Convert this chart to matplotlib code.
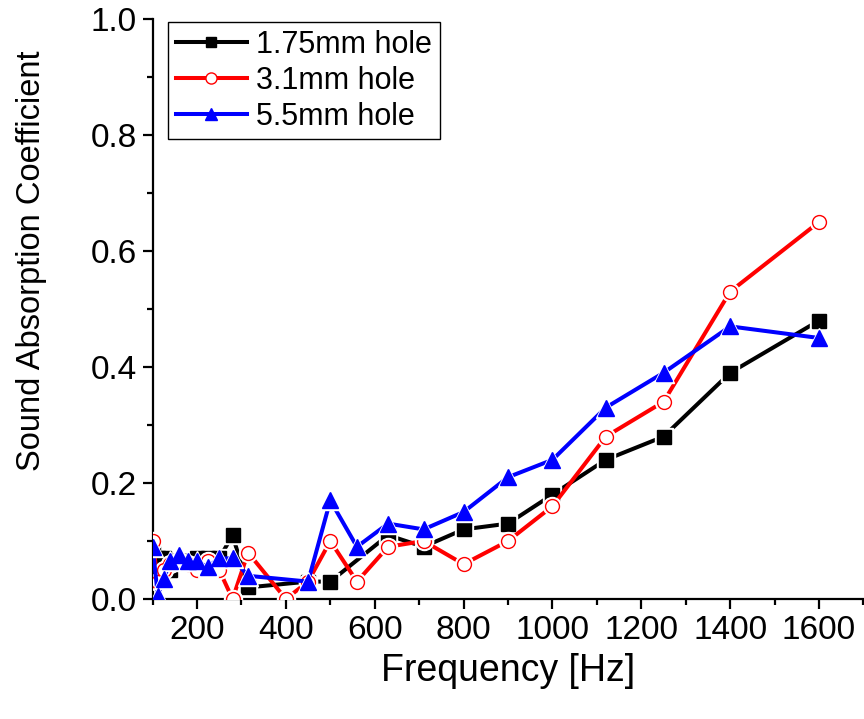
import matplotlib
matplotlib.use("Agg")
import matplotlib.pyplot as plt
from matplotlib.ticker import MultipleLocator, FormatStrFormatter
from matplotlib.lines import Line2D

plt.rcParams['font.family'] = ['Liberation Sans', 'DejaVu Sans']

# Frequencies [Hz] and absorption coefficients for each perforation size
freq_175 = [100, 112, 125, 140, 160, 180, 200, 224, 250, 280, 315, 450, 500,
            630, 710, 800, 900, 1000, 1120, 1250, 1400, 1600]
alpha_175 = [0.09, 0.07, 0.07, 0.05, 0.065, 0.065, 0.07, 0.07, 0.07, 0.11, 0.02,
             0.03, 0.03, 0.11, 0.09, 0.12, 0.13, 0.18, 0.24, 0.28, 0.39, 0.48]

freq_31 = [100, 112, 125, 140, 160, 180, 200, 224, 250, 280, 315, 400, 450, 500,
           560, 630, 710, 800, 900, 1000, 1120, 1250, 1400, 1600]
alpha_31 = [0.10, 0.03, 0.05, 0.06, 0.065, 0.06, 0.05, 0.065, 0.05, 0.0, 0.08,
            0.0, 0.03, 0.10, 0.03, 0.09, 0.10, 0.06, 0.10, 0.16, 0.28, 0.34,
            0.53, 0.65]

freq_55 = [100, 112, 125, 140, 160, 180, 200, 224, 250, 280, 315, 450, 500,
           560, 630, 710, 800, 900, 1000, 1120, 1250, 1400, 1600]
alpha_55 = [0.09, 0.005, 0.035, 0.065, 0.075, 0.065, 0.065, 0.055, 0.07, 0.07,
            0.04, 0.03, 0.17, 0.09, 0.13, 0.12, 0.15, 0.21, 0.24, 0.33, 0.39,
            0.47, 0.45]

labels = ["1.75mm hole", "3.1mm hole", "5.5mm hole"]
colors = ['black', 'red', 'blue']
markers = ['s', 'o', '^']
sizes = [9.5, 10, 11.5]
faces = ['black', 'white', 'blue']

fig = plt.figure(figsize=(8.64, 7.19), dpi=100)
ax = fig.add_axes([0.1766, 0.1669, 0.8228, 0.8067])

lw = 2.9
series = [(freq_175, alpha_175), (freq_31, alpha_31), (freq_55, alpha_55)]
handles = []
for i, (fx, fy) in enumerate(series):
    z = 3 + 3 * i
    ax.plot(fx, fy, color=colors[i], lw=lw, solid_capstyle='butt', zorder=z)
    # thin white rim so the connecting line stops short of each symbol
    ax.plot(fx, fy, ls='none', marker=markers[i], ms=sizes[i] + 3,
            mfc='white', mec='white', zorder=z + 1)
    ax.plot(fx, fy, ls='none', marker=markers[i], ms=sizes[i],
            mfc=faces[i], mec=colors[i], mew=1.0, zorder=z + 2)
    handles.append(Line2D([], [], color=colors[i], lw=lw, marker=markers[i],
                          ms=sizes[i] * 0.8, mfc=faces[i], mec=colors[i],
                          mew=1.0))

ax.set_xlim(100, 1700)
ax.set_ylim(0, 1.0)
ax.xaxis.set_minor_locator(MultipleLocator(100))
ax.yaxis.set_major_locator(MultipleLocator(0.2))
ax.yaxis.set_minor_locator(MultipleLocator(0.1))
ax.set_xticks([200, 400, 600, 800, 1000, 1200, 1400, 1600])
ax.yaxis.set_major_formatter(FormatStrFormatter('%.1f'))

for s in ['top', 'right']:
    ax.spines[s].set_visible(False)
for s in ['left', 'bottom']:
    ax.spines[s].set_linewidth(1.6)

ax.tick_params(which='major', direction='out', length=7.5, width=1.6,
               labelsize=24, pad=4)
ax.tick_params(which='minor', direction='out', length=4.5, width=1.6)

ax.set_xlabel("Frequency [Hz]", fontsize=27, labelpad=5)
ax.set_ylabel("Sound Absorption Coefficient", fontsize=23.5)
ax.yaxis.set_label_coords(-0.149, 0.584)

leg = ax.legend(handles, labels, loc='upper left',
                bbox_to_anchor=(0.0215, 0.995),
                fontsize=22, frameon=True, fancybox=False, framealpha=1,
                edgecolor='black', handlelength=2.35, handletextpad=0.3,
                labelspacing=0.2, borderpad=0.25, borderaxespad=0)
leg.get_frame().set_linewidth(1.0)

fig.savefig("out.png", dpi=100)
